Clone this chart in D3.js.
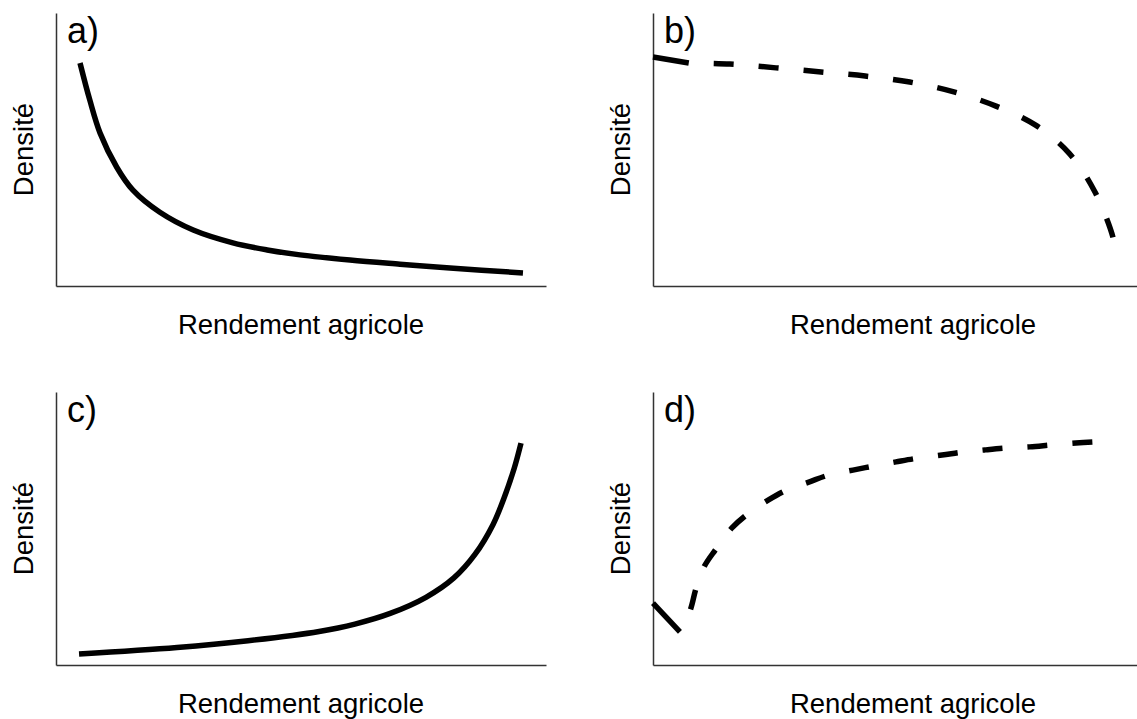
<!DOCTYPE html>
<html>
<head>
<meta charset="utf-8">
<script src="https://cdn.jsdelivr.net/npm/d3@7"></script>
<style>
  body { margin: 0; background: #fff; }
  text { font-family: Arial, 'Liberation Sans', sans-serif; fill: #000; }
</style>
</head>
<body>
<div id="chart"></div>
<script>
// labels
var xLabel = 'Rendement agricole'
var yLabel = 'Densité'
var panelNames = ['a)', 'b)', 'c)', 'd)']

// curves (axis units 0-100)
var aX = [4.9, 6.9, 9.0, 12.4, 15.7, 21.2, 28.0, 36.1, 43.1, 49.8, 60.0, 70.2, 80.4, 95.3]
var aY = [81.7, 68.1, 56.0, 43.5, 35.1, 27.0, 20.5, 15.8, 13.2, 11.4, 9.5, 8.0, 6.6, 4.8]

var bX = [0, 7.3, 15.7, 25.1, 34.3, 43.3, 52.4, 61.4, 70.0, 78.0, 84.9, 90.2, 93.9, 94.1]
var bY = [83.9, 81.7, 81.3, 79.9, 78.4, 76.9, 74.7, 71.1, 65.9, 59.0, 48.7, 34.4, 17.6, 14.3]

var cX = [4.7, 24.7, 39.2, 53.7, 61.0, 68.2, 75.5, 81.2, 85.5, 89.2, 91.4, 93.5, 94.9]
var cY = [4.0, 6.4, 8.9, 12.3, 15.0, 18.9, 24.8, 31.9, 40.5, 51.5, 61.0, 72.0, 81.3]

var dX = [0, 5.5, 7.6, 8.8, 10.4, 12.7, 16.1, 19.6, 23.5, 27.3, 31.8, 35.9, 40.8, 45.1, 49.6, 54.1, 59.0, 63.3, 67.8, 72.4, 76.9, 81.4, 86.3, 90.2]
var dY = [22.7, 12.1, 20.1, 28.2, 35.9, 42.1, 50.2, 55.7, 60.4, 64.1, 67.0, 69.6, 71.4, 72.9, 74.4, 75.8, 76.9, 78.0, 78.8, 79.5, 79.9, 80.6, 81.3, 81.7]

var width = 1137
var height = 719
var plotW = 490
var plotH = 273

var panels = [
  { name: panelNames[0], left: 56, top: 13, xs: aX, ys: aY, dashed: false, labelX: 301 },
  { name: panelNames[1], left: 653, top: 13, xs: bX, ys: bY, dashed: true, labelX: 913 },
  { name: panelNames[2], left: 56, top: 392, xs: cX, ys: cY, dashed: false, labelX: 301 },
  { name: panelNames[3], left: 653, top: 392, xs: dX, ys: dY, dashed: true, labelX: 913 }
]

var svg = d3
  .select('#chart')
  .append('svg')
  .attr('width', width)
  .attr('height', height)

panels.forEach(function(p) {
  var x = d3.scaleLinear().domain([0, 100]).range([p.left, p.left + plotW])
  var y = d3.scaleLinear().domain([0, 100]).range([p.top + plotH, p.top])
  var pts = p.xs.map(function(v, i) { return [v, p.ys[i]] })

  var g = svg.append('g')

  // axes: just the bare lines, no ticks
  g.append('g')
    .attr('transform', 'translate(0,' + (p.top + plotH) + ')')
    .call(d3.axisBottom(x).tickValues([]).tickSizeOuter(0))
  g.append('g')
    .attr('transform', 'translate(' + p.left + ',0)')
    .call(d3.axisLeft(y).tickValues([]).tickSizeOuter(0))
  g.selectAll('.domain')
    .attr('stroke', '#333')
    .attr('stroke-width', 1.5)

  var line = d3.line()
    .x(function(d) { return x(d[0]) })
    .y(function(d) { return y(d[1]) })
    .curve(d3.curveCatmullRom.alpha(0.5))

  if (p.dashed) {
    // first piece is solid, the rest dashed
    g.append('path')
      .datum(pts.slice(0, 2))
      .attr('d', line.curve(d3.curveLinear))
      .attr('fill', 'none')
      .attr('stroke', '#000')
      .attr('stroke-width', 5.5)
    line.curve(d3.curveCatmullRom.alpha(0.5))
    g.append('path')
      .datum(pts.slice(1))
      .attr('d', line)
      .attr('fill', 'none')
      .attr('stroke', '#000')
      .attr('stroke-width', 5.5)
      .attr('stroke-dasharray', '20,25')
      .attr('stroke-dashoffset', 20)
  } else {
    g.append('path')
      .datum(pts)
      .attr('d', line)
      .attr('fill', 'none')
      .attr('stroke', '#000')
      .attr('stroke-width', 5.5)
      .attr('stroke-linejoin', 'round')
  }

  g.append('text')
    .attr('x', p.left + 11)
    .attr('y', p.top + 30)
    .attr('font-size', 36)
    .text(p.name)

  g.append('text')
    .attr('x', p.labelX)
    .attr('y', p.top + plotH + 48)
    .attr('text-anchor', 'middle')
    .attr('font-size', 27.5)
    .text(xLabel)

  g.append('text')
    .attr('transform', 'translate(' + (p.left - 23) + ',' + (p.top + plotH / 2) + ') rotate(-90)')
    .attr('text-anchor', 'middle')
    .attr('font-size', 27.5)
    .text(yLabel)
})
</script>
</body>
</html>
